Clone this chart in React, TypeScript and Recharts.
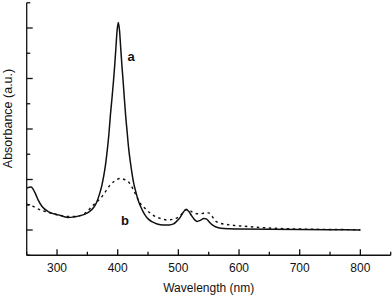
import React from 'react';
import { LineChart, Line, XAxis, YAxis, ReferenceDot, Label } from 'recharts';

// Series a (solid)
const waveA = [250, 257, 264, 269, 275, 286, 295, 302, 310, 318, 326, 333, 340, 347, 354, 360, 365, 370, 374, 377, 380, 383, 385.5, 388, 390.5, 393, 395, 397, 399, 401, 403, 405, 407, 409, 411, 413, 415.5, 418, 422, 426, 430, 434, 438, 442, 446, 451, 457, 465, 475, 485, 492, 497, 503, 508, 513, 517, 522, 527, 531, 536, 542, 546, 551, 556, 562, 570, 585, 600, 650, 700, 750, 800];
const absA = [0.83, 0.85, 0.73, 0.59, 0.47, 0.36, 0.32, 0.3, 0.27, 0.25, 0.255, 0.27, 0.29, 0.32, 0.37, 0.44, 0.54, 0.71, 0.89, 1.07, 1.3, 1.6, 1.9, 2.28, 2.6, 2.94, 3.25, 3.6, 3.95, 4.11, 3.95, 3.6, 3.25, 2.94, 2.6, 2.28, 1.95, 1.62, 1.25, 0.95, 0.75, 0.58, 0.46, 0.36, 0.28, 0.21, 0.16, 0.12, 0.1, 0.1, 0.12, 0.17, 0.25, 0.35, 0.41, 0.37, 0.28, 0.2, 0.17, 0.19, 0.23, 0.22, 0.16, 0.1, 0.06, 0.035, 0.025, 0.02, 0.015, 0.01, 0.005, 0.0];

// Series b (dotted)
const waveB = [250, 260, 272, 285, 294, 305, 316, 328, 340, 350, 357, 366, 374, 381, 387.5, 395, 404, 411, 418, 424, 429, 433, 437, 444, 451, 460, 470, 481, 490, 498, 506, 513, 520, 526, 536, 544, 550, 555, 561, 570, 580, 592, 602, 624, 650, 680, 720, 760, 800];
const absB = [0.51, 0.47, 0.4, 0.35, 0.32, 0.29, 0.27, 0.27, 0.29, 0.37, 0.46, 0.56, 0.66, 0.78, 0.89, 0.97, 1.02, 1.0, 0.95, 0.84, 0.72, 0.62, 0.53, 0.44, 0.36, 0.28, 0.23, 0.2, 0.21, 0.24, 0.32, 0.4, 0.38, 0.33, 0.32, 0.34, 0.34, 0.28, 0.18, 0.13, 0.11, 0.09, 0.08, 0.06, 0.04, 0.025, 0.015, 0.01, 0.005];

const xTicks = [250, 300, 350, 400, 450, 500, 550, 600, 650, 700, 750, 800, 850];
const xLabelTicks = [300, 400, 500, 600, 700, 800];
const yTicks = [-0.5, 0, 0.5, 1, 1.5, 2, 2.5, 3, 3.5, 4, 4.5];
const xTitle = 'Wavelength (nm)';
const yTitle = 'Absorbance (a.u.)';
const curveNames = ['a', 'b'];
const curveNameX = [422, 412];
const curveNameY = [3.43, 0.18];

const dataA = waveA.map((w, i) => ({ w, v: absA[i] }));
const dataB = waveB.map((w, i) => ({ w, v: absB[i] }));

const FONT = '"Liberation Sans", Arial, sans-serif';
const INK = '#111';

const XTick = (props: any) => {
  const { x, y, payload } = props;
  const v = payload.value;
  const major = v % 100 === 0;
  return (
    <g>
      <line x1={x} x2={x} y1={y} y2={y - (major ? 6 : 3.5)} stroke={INK} strokeWidth={1.3} />
      {xLabelTicks.includes(v) && (
        <text x={x} y={y + 12.5} textAnchor="middle" dominantBaseline="central" fontSize={12} fontFamily={FONT} fill={INK}>
          {v}
        </text>
      )}
    </g>
  );
};

const YTick = (props: any) => {
  const { x, y, payload } = props;
  const major = Number.isInteger(payload.value);
  return <line x1={x} x2={x + (major ? 6 : 3.5)} y1={y} y2={y} stroke={INK} strokeWidth={1.3} />;
};

const NameShape = (text: string) => (p: any) => (
  <text x={p.cx} y={p.cy} textAnchor="middle" dominantBaseline="central" fontSize={13} fontWeight="bold" fontFamily={FONT} fill={INK}>
    {text}
  </text>
);

export default function App() {
  return (
    <div style={{ position: 'absolute', left: 0, top: 0, width: 392, height: 297, background: '#fff' }}>
      <LineChart width={392} height={297} margin={{ top: 2.75, right: 1.3, bottom: 0, left: 0 }}>
        <XAxis
          dataKey="w"
          type="number"
          domain={[250, 850]}
          ticks={xTicks}
          interval={0}
          height={41.75}
          tickSize={0}
          tickMargin={0}
          tickLine={false}
          axisLine={{ stroke: INK, strokeWidth: 1.3 }}
          tick={XTick}
          allowDataOverflow
        >
          <Label
            content={(p: any) => {
              const vb = p.viewBox;
              return (
                <text x={vb.x + vb.width / 2} y={vb.y + 33} textAnchor="middle" dominantBaseline="central" fontSize={12} fontFamily={FONT} fill={INK}>
                  {xTitle}
                </text>
              );
            }}
          />
        </XAxis>
        <YAxis
          type="number"
          domain={[-0.5, 4.5]}
          ticks={yTicks}
          interval={0}
          width={26.7}
          tickSize={0}
          tickMargin={0}
          tickLine={false}
          axisLine={{ stroke: INK, strokeWidth: 1.3 }}
          tick={YTick}
          allowDataOverflow
        >
          <Label
            content={(p: any) => {
              const vb = p.viewBox;
              const cx = vb.x + 8;
              const cy = vb.y + 115.75;
              return (
                <text x={cx} y={cy} transform={`rotate(-90 ${cx} ${cy})`} textAnchor="middle" dominantBaseline="central" fontSize={12.5} fontFamily={FONT} fill={INK}>
                  {yTitle}
                </text>
              );
            }}
          />
        </YAxis>
        <Line data={dataB} dataKey="v" type="monotone" stroke={INK} strokeWidth={1.4} strokeDasharray="2.5 3.5" dot={false} isAnimationActive={false} />
        <Line data={dataA} dataKey="v" type="monotone" stroke={INK} strokeWidth={1.5} dot={false} isAnimationActive={false} />
        {curveNames.map((n, i) => (
          <ReferenceDot key={n} x={curveNameX[i]} y={curveNameY[i]} r={0} shape={NameShape(n)} />
        ))}
      </LineChart>
    </div>
  );
}
